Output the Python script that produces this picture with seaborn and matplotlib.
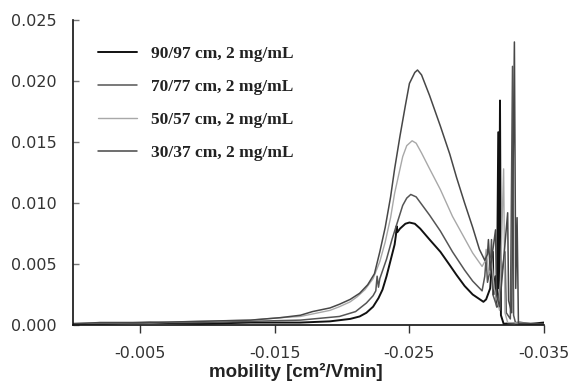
import numpy as np
import pandas as pd
import matplotlib
matplotlib.use("Agg")
import matplotlib.pyplot as plt
import seaborn as sns

# ---- data (mobility in cm^2/Vmin, signal) ----
mob_90 = [0.0, -0.0020, -0.0057, -0.0094, -0.0132, -0.0169, -0.0191, -0.0206, -0.0213, -0.0218,
          -0.0223, -0.0227, -0.0230, -0.0233, -0.0236, -0.0239, -0.0240, -0.02405, -0.0241, -0.0243,
          -0.0247, -0.0250, -0.0254, -0.0258, -0.0265, -0.0273, -0.0280, -0.0285, -0.0291, -0.0297,
          -0.0301, -0.0305, -0.0307, -0.0310, -0.0312, -0.03125, -0.0314, -0.0315, -0.03160, -0.03166,
          -0.03173, -0.03180, -0.0320, -0.0332, -0.0340, -0.0350]
sig_90 = [0.0001, 0.0001, 0.0002, 0.0001, 0.0002, 0.0002, 0.0003, 0.0005, 0.0007, 0.0010,
          0.0015, 0.0022, 0.0029, 0.0040, 0.0053, 0.0066, 0.0074, 0.0081, 0.0076, 0.0079,
          0.0083, 0.0084, 0.0083, 0.0079, 0.0070, 0.0060, 0.0049, 0.0041, 0.0032, 0.0025,
          0.0022, 0.0019, 0.0021, 0.0030, 0.0060, 0.0025, 0.0040, 0.0015, 0.0158, 0.0030,
          0.0184, 0.0008, 0.0001, 0.0002, 0.0001, 0.0002]

mob_70 = [0.0, -0.0020, -0.0057, -0.0094, -0.0132, -0.0169, -0.0198, -0.0210, -0.0218, -0.0223,
          -0.0225, -0.0226, -0.0227, -0.0228, -0.0233, -0.0237, -0.0241, -0.0245, -0.0248, -0.0251,
          -0.0255, -0.0259, -0.0265, -0.0273, -0.0282, -0.0291, -0.0297, -0.0304, -0.0306, -0.0307,
          -0.0308, -0.0310, -0.0311, -0.0312, -0.0315, -0.0321, -0.0322, -0.0325, -0.03266, -0.03274,
          -0.0329, -0.0350]
sig_70 = [0.0001, 0.0001, 0.0002, 0.0002, 0.0003, 0.0004, 0.0007, 0.0011, 0.0018, 0.0024,
          0.0028, 0.0040, 0.0031, 0.0038, 0.0054, 0.0070, 0.0084, 0.0098, 0.0104, 0.0107,
          0.0105, 0.0099, 0.0090, 0.0077, 0.0060, 0.0045, 0.0036, 0.0028, 0.0040, 0.0055,
          0.0035, 0.0045, 0.0070, 0.0025, 0.0015, 0.0060, 0.0010, 0.0005, 0.0212, 0.0008,
          0.0001, 0.0001]

mob_50 = [0.0, -0.0020, -0.0057, -0.0094, -0.0132, -0.0154, -0.0169, -0.0191, -0.0198, -0.0206,
          -0.0211, -0.0217, -0.0223, -0.0228, -0.0232, -0.0236, -0.0239, -0.0243, -0.0245, -0.0248,
          -0.0252, -0.0255, -0.0259, -0.0265, -0.0273, -0.0282, -0.0291, -0.0297, -0.0304, -0.0306,
          -0.0307, -0.0309, -0.0311, -0.0313, -0.0317, -0.03200, -0.03210, -0.0323, -0.0350]
sig_50 = [0.0001, 0.0002, 0.0002, 0.0003, 0.0004, 0.0006, 0.0007, 0.0012, 0.0015, 0.0019,
          0.0023, 0.0029, 0.0038, 0.0052, 0.0068, 0.0088, 0.0108, 0.0128, 0.0138, 0.0147,
          0.0151, 0.0149, 0.0141, 0.0128, 0.0111, 0.0089, 0.0071, 0.0059, 0.0048, 0.0052,
          0.0062, 0.0042, 0.0055, 0.0030, 0.0012, 0.0128, 0.0010, 0.0002, 0.0001]

mob_30 = [0.0, -0.0020, -0.0057, -0.0094, -0.0132, -0.0154, -0.0169, -0.0178, -0.0191, -0.0198,
          -0.0206, -0.0213, -0.0219, -0.0224, -0.0228, -0.0232, -0.0236, -0.0239, -0.0243, -0.0247,
          -0.0250, -0.0254, -0.0256, -0.0259, -0.0265, -0.0273, -0.0280, -0.0285, -0.0291, -0.0297,
          -0.0302, -0.0306, -0.0308, -0.03087, -0.0310, -0.0314, -0.03147, -0.0317, -0.0323, -0.03237,
          -0.0326, -0.03280, -0.0329, -0.0330, -0.0331, -0.0350]
sig_30 = [0.0001, 0.0002, 0.0002, 0.0003, 0.0004, 0.0006, 0.0008, 0.0011, 0.0014, 0.0017,
          0.0021, 0.0026, 0.0033, 0.0042, 0.0060, 0.0080, 0.0105, 0.0128, 0.0155, 0.0180,
          0.0198, 0.0207, 0.0209, 0.0205, 0.0188, 0.0163, 0.0140, 0.0121, 0.0100, 0.0080,
          0.0062, 0.0053, 0.0058, 0.0070, 0.0045, 0.0078, 0.0025, 0.0015, 0.0092, 0.0020,
          0.0010, 0.0232, 0.0030, 0.0088, 0.0001, 0.0001]

labels = ["90/97 cm, 2 mg/mL", "70/77 cm, 2 mg/mL", "50/57 cm, 2 mg/mL", "30/37 cm, 2 mg/mL"]
colors = ["#111111", "#555555", "#a8a8a8", "#474747"]
xticks = [-0.005, -0.015, -0.025, -0.035]
yticks = [0.000, 0.005, 0.010, 0.015, 0.020, 0.025]

frames = []
for lab, m, s in zip(labels, [mob_90, mob_70, mob_50, mob_30], [sig_90, sig_70, sig_50, sig_30]):
    frames.append(pd.DataFrame({"mobility": m, "signal": s, "series": lab}))
df = pd.concat(frames, ignore_index=True)

sns.set_style("white")
plt.rcParams["axes.unicode_minus"] = False

fig = plt.figure(figsize=(5.74, 3.86), dpi=100)
ax = fig.add_axes([73 / 574, 1 - 325 / 386, 471 / 574, 305 / 386])

lw = {labels[0]: 1.4, labels[1]: 1.1, labels[2]: 1.0, labels[3]: 1.1}
for lab, col in zip(labels, colors):
    sub = df[df["series"] == lab]
    sns.lineplot(data=sub, x="mobility", y="signal", color=col, lw=lw[lab],
                 estimator=None, sort=False, ax=ax, label=lab)

ax.set_xlim(0, -0.035)
ax.set_ylim(0, 0.025)
ax.set_xticks(xticks)
ax.set_xticklabels([f"{t:.3f}" for t in xticks])
ax.set_yticks(yticks)
ax.set_yticklabels([f"{t:.3f}" for t in yticks])

for sp in ["top", "right"]:
    ax.spines[sp].set_visible(False)
for sp in ["left", "bottom"]:
    ax.spines[sp].set_color("#111111")
    ax.spines[sp].set_linewidth(1.2)

ax.tick_params(axis="x", direction="out", length=6, width=1, color="#333333",
               pad=9, labelsize=11.5, labelcolor="#333333", bottom=True)
ax.tick_params(axis="y", direction="in", length=4, width=1, color="#777777",
               pad=12, labelsize=11.5, labelcolor="#333333", left=True)
for t in ax.get_xticklabels() + ax.get_yticklabels():
    t.set_family("DejaVu Sans")

ax.set_ylabel("")
ax.set_xlabel("mobility [cm²/Vmin]", fontsize=13.5, fontweight="bold",
              family="Liberation Sans", color="#222222", labelpad=1)
ax.xaxis.set_label_coords((296 - 73) / 471, -0.125)

leg = ax.legend(loc="upper left", bbox_to_anchor=(0.035, 0.945), frameon=False,
                prop={"family": "Liberation Serif", "weight": "bold", "size": 12.5},
                handlelength=2.25, handletextpad=0.8, labelspacing=0.97, borderpad=0)
for t in leg.get_texts():
    t.set_color("#222222")

fig.savefig("out.png", dpi=100)
